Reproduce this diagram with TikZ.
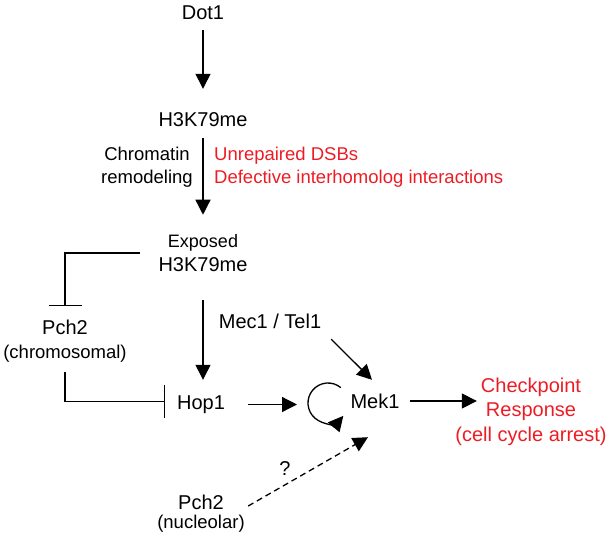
\documentclass[tikz,border=0pt]{standalone}
\usepackage{fontspec}
\setmainfont{Liberation Sans}
\usetikzlibrary{arrows.meta}
\definecolor{pathred}{RGB}{237,28,36}
\begin{document}
\begin{tikzpicture}[x=1pt,y=1pt,
  lbl/.style={font=\fontsize{20}{24}\selectfont, inner sep=0pt, text height=14.5pt, text depth=4pt},
  mlbl/.style={inner sep=0pt, align=center},
  arr/.style={line width=1.3pt, -{Triangle[length=15pt,width=15pt]}},
  inh/.style={line width=1.2pt, -{Bar[width=33pt]}},
  dasharr/.style={arr, dash pattern=on 6pt off 4pt}
]
\useasboundingbox (0,0) rectangle (614,-539);

\node[lbl] (dot1) at (203,-14) {Dot1};
\node[lbl] (h3) at (203,-121) {H3K79me};
\node[mlbl, font=\fontsize{18.5}{23}\selectfont] (chrom) at (147,-167.5) {Chromatin\\remodeling};
\node[mlbl, align=left, anchor=west, text=pathred, font=\fontsize{18.5}{23}\selectfont] (dsb) at (214,-167.5) {Unrepaired DSBs\\Defective interhomolog interactions};
\node[mlbl, font=\fontsize{20}{23.7}\selectfont] (exp) at (203,-253) {{\fontsize{18}{23.7}\selectfont Exposed}\\H3K79me};
\node[mlbl, font=\fontsize{20}{24}\selectfont] (pch2c) at (65,-341) {Pch2\\{\fontsize{18.5}{24}\selectfont (chromosomal)}};
\node[lbl] (hop1) at (201,-404.5) {Hop1};
\node[lbl] (mec) at (270,-323) {Mec1 / Tel1};
\node[lbl] (mek1) at (375,-403) {Mek1};
\node[mlbl, text=pathred, font=\fontsize{20}{24.5}\selectfont] (chk) at (531,-411.5) {Checkpoint\\Response\\(cell cycle arrest)};
\node[mlbl, font=\fontsize{20}{19}\selectfont] (pch2n) at (201,-513.5) {Pch2\\{\fontsize{18.5}{19}\selectfont (nucleolar)}};
\node[lbl] (q) at (285,-470) {?};
\coordinate (loop) at (328,-403);

\draw[arr, shorten <=6.75pt, shorten >=22.75pt] (dot1) -- (h3);
\draw[arr, shorten <=7.75pt, shorten >=19.6pt] (h3) -- (exp);
\draw[arr, shorten <=28.6pt, shorten >=15.25pt] (exp.south) -- (exp.south |- hop1.north);
\draw[inh, shorten >=13.75pt] ([xshift=-18.5pt]exp.west) -| (pch2c.north);
\draw[inh, shorten <=9.75pt, shorten >=12.1pt] (pch2c.south) |- ([yshift=3pt]hop1.west);
\draw[arr, shorten <=23pt, shorten >=31pt] (hop1.east) -- (hop1.east -| loop);
\draw[arr] ([xshift=9.8pt,yshift=-6.75pt]mec.south east) -- ([xshift=-3pt,yshift=13.75pt]mek1.north);
\draw[arr] ([shift={(50:20pt)}]loop) arc[start angle=50, end angle=320, radius=20pt];
\coordinate (m1e) at ([yshift=2pt]mek1.east);
\coordinate (chkin) at ([xshift=21.6pt]chk.west);
\draw[arr, shorten <=10.5pt] (m1e) -- (m1e -| chkin);
\draw[dasharr] ([xshift=3.3pt,yshift=7.5pt]pch2n.east) -- ([xshift=-7pt,yshift=-24.75pt]mek1.south);
\end{tikzpicture}
\end{document}
